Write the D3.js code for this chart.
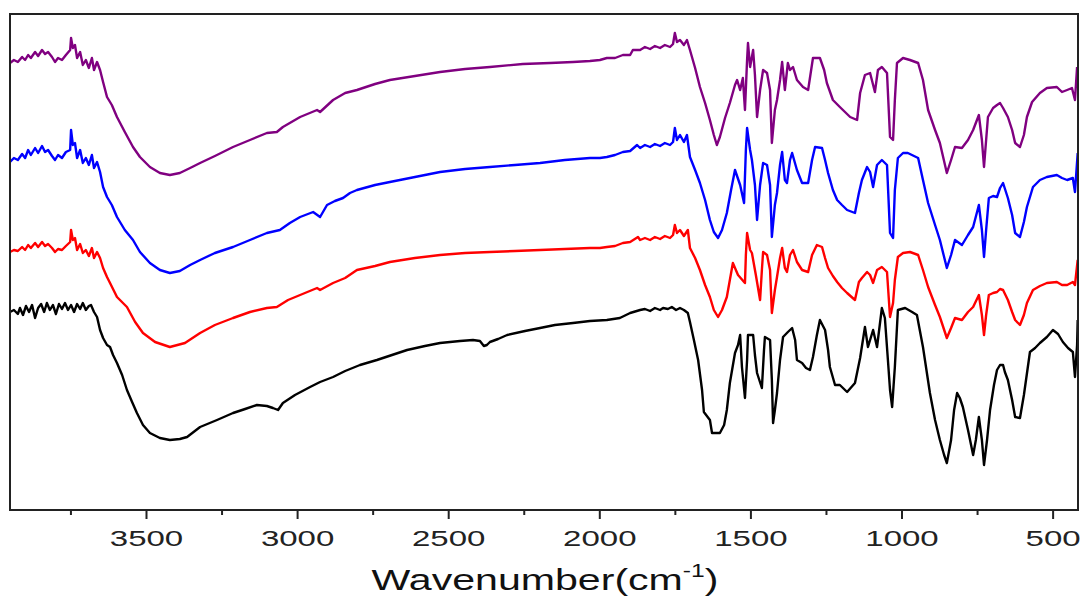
<!DOCTYPE html>
<html>
<head>
<meta charset="utf-8">
<script src="https://cdn.jsdelivr.net/npm/d3@7"></script>
<style>
  body { margin: 0; background: #fff; }
  svg { display: block; font-family: "Liberation Sans", Arial, sans-serif; }
</style>
</head>
<body>
<div id="chart"></div>
<script>
// wavenumber (cm-1), transmittance (a.u., offset spectra)
const purple = [[3950,447],[3937,450],[3924,448],[3910,453],[3900,450],[3890,455],[3881,452],[3867,458],[3857,454],[3844,460],[3834,456],[3824,458],[3811,453],[3801,448],[3791,452],[3778,450],[3765,455],[3751,460],[3748,472],[3742,462],[3735,465],[3728,452],[3718,458],[3709,445],[3699,450],[3689,442],[3679,452],[3672,440],[3662,448],[3652,440],[3642,428],[3629,413],[3613,405],[3596,393],[3570,378],[3543,363],[3520,353],[3487,343],[3454,337],[3421,335],[3388,337],[3354,342],[3321,347],[3272,354],[3212,363],[3156,370],[3100,377],[3067,378],[3047,383],[2990,393],[2934,400],[2924,398],[2881,410],[2841,417],[2802,420],[2742,426],[2693,430],[2610,434],[2527,438],[2444,441],[2362,443],[2253,446],[2163,447],[2087,448],[2031,449],[1998,450],[1975,452],[1948,452],[1922,455],[1898,455],[1889,460],[1872,460],[1865,460],[1849,463],[1832,461],[1816,464],[1799,462],[1783,465],[1766,463],[1756,466],[1750,477],[1743,468],[1733,470],[1720,465],[1710,470],[1700,460],[1683,442],[1667,423],[1650,407],[1634,390],[1621,375],[1611,365],[1601,373],[1584,392],[1568,407],[1551,425],[1544,430],[1534,420],[1525,432],[1518,400],[1511,450],[1508,467],[1501,443],[1491,460],[1485,435],[1478,393],[1468,420],[1458,440],[1445,437],[1435,420],[1429,367],[1419,400],[1412,410],[1402,430],[1395,448],[1386,420],[1376,447],[1369,440],[1359,443],[1346,430],[1326,423],[1309,420],[1293,452],[1270,452],[1256,440],[1247,427],[1227,410],[1204,403],[1187,398],[1170,393],[1147,390],[1137,417],[1121,435],[1104,437],[1088,418],[1078,440],[1065,443],[1048,437],[1038,373],[1028,370],[1022,410],[1015,447],[995,452],[972,450],[945,447],[929,430],[912,400],[889,380],[873,367],[850,337],[836,350],[823,363],[800,362],[780,370],[763,380],[744,395],[734,370],[727,343],[720,370],[714,393],[697,402],[684,405],[674,407],[664,402],[648,393],[634,380],[624,367],[608,363],[595,375],[585,393],[568,408],[542,417],[519,422],[486,423],[469,418],[452,420],[436,422],[426,410],[419,443]];

const blue = [[3950,348],[3937,352],[3924,350],[3910,356],[3900,352],[3890,360],[3881,355],[3867,362],[3857,357],[3844,364],[3834,358],[3824,360],[3811,354],[3801,350],[3791,355],[3778,352],[3765,358],[3751,360],[3748,380],[3742,365],[3735,367],[3728,352],[3718,360],[3709,347],[3699,352],[3689,345],[3679,355],[3672,342],[3662,348],[3652,338],[3642,323],[3629,313],[3613,305],[3596,293],[3570,280],[3543,270],[3520,258],[3487,247],[3454,240],[3421,237],[3388,239],[3354,245],[3321,250],[3272,257],[3212,263],[3156,270],[3100,277],[3057,280],[3024,287],[2990,293],[2947,298],[2924,293],[2901,305],[2875,309],[2848,312],[2825,317],[2802,320],[2742,325],[2693,328],[2610,333],[2527,338],[2444,341],[2362,343],[2279,345],[2196,347],[2114,350],[2031,352],[1998,352],[1975,353],[1948,355],[1922,358],[1898,359],[1875,365],[1865,362],[1849,365],[1832,363],[1816,366],[1799,364],[1783,367],[1766,365],[1756,368],[1750,382],[1743,370],[1733,375],[1720,368],[1710,375],[1700,353],[1683,340],[1667,327],[1650,310],[1634,290],[1621,278],[1607,272],[1594,280],[1578,297],[1564,320],[1551,340],[1534,325],[1521,307],[1515,360],[1511,382],[1501,360],[1495,350],[1485,325],[1478,290],[1468,325],[1458,347],[1445,345],[1435,325],[1429,273],[1419,305],[1412,317],[1402,345],[1395,358],[1386,330],[1379,327],[1369,350],[1362,357],[1346,340],[1329,327],[1309,327],[1296,350],[1286,363],[1263,362],[1253,350],[1243,337],[1227,320],[1213,310],[1197,305],[1180,300],[1154,297],[1141,317],[1131,330],[1114,343],[1104,338],[1094,323],[1081,345],[1065,350],[1048,345],[1038,277],[1028,272],[1022,320],[1012,352],[995,357],[979,357],[945,352],[929,330],[912,307],[889,285],[873,270],[850,242],[836,255],[823,270],[800,265],[780,275],[763,283],[744,305],[734,280],[727,253],[720,280],[711,312],[697,314],[684,313],[674,322],[664,327],[648,312],[634,295],[624,277],[608,273],[595,288],[585,303],[565,323],[542,330],[519,333],[486,335],[469,332],[452,330],[433,332],[426,318],[417,357]];

const red = [[3950,258],[3937,260],[3924,259],[3910,263],[3900,260],[3890,265],[3881,262],[3867,267],[3857,263],[3844,268],[3834,264],[3824,266],[3811,262],[3801,258],[3791,261],[3778,260],[3765,264],[3751,268],[3748,280],[3742,270],[3735,272],[3728,260],[3718,266],[3709,257],[3699,260],[3689,254],[3679,262],[3672,252],[3662,258],[3652,252],[3642,242],[3629,233],[3619,227],[3596,213],[3563,203],[3536,188],[3510,177],[3470,168],[3421,163],[3371,167],[3321,177],[3272,185],[3212,192],[3156,198],[3100,202],[3067,203],[3030,210],[2990,215],[2934,222],[2924,220],[2881,227],[2841,232],[2802,240],[2742,244],[2693,248],[2610,252],[2527,255],[2444,257],[2362,258],[2279,259],[2196,260],[2114,261],[2031,262],[1998,262],[1975,263],[1948,264],[1922,267],[1898,268],[1872,273],[1865,270],[1849,272],[1832,270],[1816,273],[1799,271],[1783,274],[1766,272],[1756,275],[1750,285],[1743,277],[1733,280],[1720,274],[1707,280],[1700,262],[1683,252],[1667,240],[1650,225],[1634,213],[1621,200],[1607,193],[1594,200],[1578,213],[1568,230],[1558,247],[1541,235],[1518,227],[1515,255],[1511,277],[1501,260],[1495,257],[1482,235],[1468,210],[1462,240],[1458,258],[1445,255],[1435,240],[1429,197],[1419,220],[1412,233],[1402,252],[1395,262],[1386,242],[1379,238],[1369,255],[1359,260],[1346,248],[1329,240],[1309,238],[1296,255],[1280,265],[1263,263],[1253,252],[1243,242],[1227,234],[1213,228],[1197,222],[1180,217],[1154,210],[1141,228],[1131,232],[1114,238],[1104,235],[1094,227],[1081,240],[1065,243],[1048,238],[1038,193],[1028,207],[1022,230],[1012,253],[995,257],[972,258],[945,255],[929,240],[912,223],[889,205],[873,193],[850,172],[836,182],[823,192],[800,190],[780,198],[763,203],[744,215],[734,195],[727,175],[720,195],[711,215],[697,217],[684,218],[674,221],[664,220],[648,210],[634,198],[624,190],[608,185],[595,195],[585,207],[565,220],[542,224],[519,227],[486,228],[469,225],[452,225],[433,228],[426,225],[417,250]];

const black = [[3950,198],[3937,200],[3924,196],[3917,202],[3907,195],[3897,204],[3887,198],[3877,205],[3867,192],[3857,202],[3847,206],[3837,198],[3828,207],[3818,200],[3808,205],[3798,196],[3788,206],[3778,201],[3768,207],[3758,200],[3748,205],[3738,198],[3728,206],[3718,201],[3709,207],[3699,200],[3689,204],[3682,205],[3672,198],[3662,193],[3652,180],[3642,172],[3629,165],[3619,163],[3609,155],[3596,147],[3579,135],[3563,120],[3546,108],[3530,97],[3510,85],[3487,77],[3454,72],[3421,70],[3388,71],[3364,73],[3321,83],[3265,90],[3212,97],[3172,101],[3133,105],[3100,104],[3080,102],[3063,100],[3047,107],[3007,115],[2957,123],[2924,128],[2881,133],[2841,139],[2792,145],[2736,150],[2686,155],[2636,160],[2577,164],[2527,167],[2461,169],[2418,170],[2395,169],[2382,164],[2372,165],[2362,168],[2335,171],[2305,175],[2246,179],[2196,182],[2147,185],[2087,187],[2031,189],[1975,190],[1932,192],[1898,197],[1865,200],[1849,201],[1832,199],[1816,202],[1799,200],[1789,202],[1773,201],[1760,203],[1746,200],[1733,202],[1720,200],[1707,197],[1700,188],[1687,170],[1673,150],[1660,120],[1654,98],[1634,90],[1627,77],[1601,77],[1587,85],[1578,100],[1568,127],[1551,157],[1541,165],[1534,175],[1528,143],[1518,112],[1511,150],[1508,175],[1491,175],[1485,155],[1478,137],[1462,122],[1455,160],[1452,173],[1435,170],[1429,130],[1425,87],[1419,100],[1412,117],[1402,150],[1392,173],[1376,178],[1362,182],[1352,170],[1346,150],[1329,147],[1316,142],[1303,140],[1293,153],[1280,175],[1270,190],[1253,180],[1243,160],[1237,143],[1220,125],[1204,125],[1180,118],[1154,127],[1137,152],[1121,183],[1111,163],[1094,180],[1081,163],[1065,202],[1055,192],[1045,150],[1038,120],[1031,103],[1025,130],[1022,143],[1012,200],[988,202],[965,198],[949,195],[929,163],[906,117],[889,90],[873,70],[859,55],[850,47],[836,70],[826,100],[816,117],[807,112],[797,103],[780,80],[763,55],[754,70],[744,93],[734,70],[727,45],[717,70],[707,100],[694,125],[684,140],[674,145],[664,145],[658,138],[648,130],[634,110],[624,93],[608,92],[595,115],[575,158],[558,162],[542,167],[519,173],[499,180],[482,176],[466,168],[449,162],[433,158],[426,133],[419,165],[417,190]];

const majorTicks = [3500, 3000, 2500, 2000, 1500, 1000, 500];
const minorTicks = [3750, 3250, 2750, 2250, 1750, 1250, 750];

const series = [
  {name: "black", values: black, color: "#000000"},
  {name: "red", values: red, color: "#ff0000"},
  {name: "blue", values: blue, color: "#0000ff"},
  {name: "purple", values: purple, color: "#800080"}
];

const width = 1085, height = 597;
const margin = {left: 10, right: 7, top: 14, bottom: 87};

const svg = d3.select("#chart")
  .append("svg")
  .attr("width", width)
  .attr("height", height);

const x = d3.scaleLinear()
  .domain([3950, 416])
  .range([margin.left, width - margin.right]);

const y = d3.scaleLinear()
  .domain([0, 496])
  .range([height - margin.bottom, margin.top]);

const line = d3.line()
  .x(d => x(d[0]))
  .y(d => y(d[1]));

svg.append("clipPath")
  .attr("id", "clip")
  .append("rect")
  .attr("x", margin.left)
  .attr("y", margin.top)
  .attr("width", width - margin.left - margin.right)
  .attr("height", height - margin.top - margin.bottom);

svg.append("g")
  .attr("clip-path", "url(#clip)")
  .selectAll("path")
  .data(series)
  .join("path")
  .attr("fill", "none")
  .attr("stroke", d => d.color)
  .attr("stroke-width", 2.4)
  .attr("stroke-linejoin", "round")
  .attr("d", d => line(d.values));

// minor ticks
svg.append("g")
  .attr("transform", `translate(0,${height - margin.bottom})`)
  .call(d3.axisBottom(x).tickValues(minorTicks).tickSize(5).tickFormat(""))
  .call(g => g.select(".domain").remove())
  .call(g => g.selectAll("line").attr("stroke", "#222").attr("stroke-width", 2));

// major ticks + labels
svg.append("g")
  .attr("transform", `translate(0,${height - margin.bottom})`)
  .call(d3.axisBottom(x).tickValues(majorTicks).tickSize(9).tickPadding(11).tickFormat(d3.format("d")))
  .call(g => g.select(".domain").remove())
  .call(g => g.selectAll("line").attr("stroke", "#222").attr("stroke-width", 2))
  .call(g => g.selectAll("text")
    .attr("fill", "#222")
    .attr("font-size", 22)
    .attr("font-family", "Liberation Sans, Arial, sans-serif")
    .attr("transform", "scale(1.5,1)"));

// frame
svg.append("rect")
  .attr("x", margin.left)
  .attr("y", margin.top)
  .attr("width", width - margin.left - margin.right)
  .attr("height", height - margin.top - margin.bottom)
  .attr("fill", "none")
  .attr("stroke", "#222")
  .attr("stroke-width", 2);

// axis title
const title = svg.append("text")
  .attr("transform", `translate(545,590) scale(1.37,1)`)
  .attr("text-anchor", "middle")
  .attr("font-size", 30)
  .attr("fill", "#111");
title.append("tspan").text("Wavenumber(cm");
title.append("tspan").attr("font-size", 18).attr("dy", -13).text("-1");
title.append("tspan").attr("dy", 13).text(")");
</script>
</body>
</html>
